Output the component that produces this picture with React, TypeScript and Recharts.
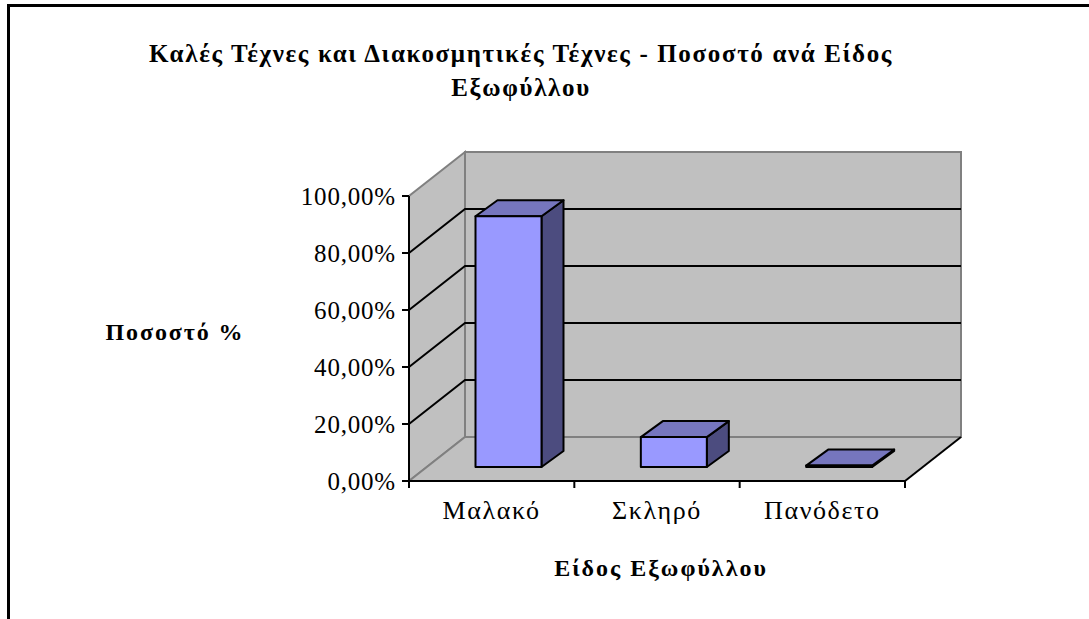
import React from 'react';
import { BarChart, Bar, XAxis, YAxis, usePlotArea } from 'recharts';

const categories = ['Μαλακό', 'Σκληρό', 'Πανόδετο'];
const percentages = [88, 10.5, 0.5];
const percentTicks = [0, 20, 40, 60, 80, 100];
const titleLines = ['Καλές Τέχνες και Διακοσμητικές Τέχνες - Ποσοστό ανά Είδος', 'Εξωφύλλου'];
const yAxisTitle = 'Ποσοστό %';
const xAxisTitle = 'Είδος Εξωφύλλου';

const chartData = categories.map((name, i) => ({ name, value: percentages[i] }));

const FONT = '"Liberation Serif", serif';
// 3d projection: how far the back wall sits behind the axes
const WALL_DX = 56;
const WALL_DY = 44;
// bars stand part way into the floor and have their own depth
const BAR_SHIFT_X = 16.5;
const BAR_SHIFT_Y = 14;
const BAR_DX = 22;
const BAR_DY = 16;

const Walls = () => {
  const plot = usePlotArea();
  if (!plot) return null;
  const { x, y, width, height } = plot;
  const bottom = y + height;
  const right = x + width;
  const toY = (v: number) => bottom - (v / 100) * height;

  return (
    <g>
      <polygon
        points={`${x},${bottom} ${x},${y} ${x + WALL_DX},${y - WALL_DY} ${x + WALL_DX},${bottom - WALL_DY}`}
        fill="#c0c0c0"
        stroke="#808080"
        strokeWidth={2}
      />
      <rect x={x + WALL_DX} y={y - WALL_DY} width={width} height={height} fill="#c0c0c0" stroke="#808080" strokeWidth={2} />
      <polygon
        points={`${x},${bottom} ${x + WALL_DX},${bottom - WALL_DY} ${right + WALL_DX},${bottom - WALL_DY} ${right},${bottom}`}
        fill="#c0c0c0"
      />
      <line x1={x} y1={bottom} x2={x + WALL_DX} y2={bottom - WALL_DY} stroke="#808080" strokeWidth={2} />
      <line x1={x + WALL_DX} y1={bottom - WALL_DY} x2={right + WALL_DX} y2={bottom - WALL_DY} stroke="#808080" strokeWidth={2} />
      <line x1={right} y1={bottom} x2={right + WALL_DX} y2={bottom - WALL_DY} stroke="#000" strokeWidth={2} />
      {percentTicks
        .filter((v) => v > 0 && v < 100)
        .map((v) => (
          <polyline
            key={v}
            points={`${x},${toY(v)} ${x + WALL_DX},${toY(v) - WALL_DY} ${right + WALL_DX},${toY(v) - WALL_DY}`}
            fill="none"
            stroke="#000"
            strokeWidth={2}
          />
        ))}
    </g>
  );
};

// the x ticks sit between the categories, which recharts' band axis can't do by itself
const BandTicks = () => {
  const plot = usePlotArea();
  if (!plot) return null;
  const { x, y, width, height } = plot;
  const bottom = y + height;
  return (
    <g>
      {[0, ...categories.map((_, i) => i + 1)].map((i) => {
        const tx = x + (i * width) / categories.length;
        return <line key={i} x1={tx} y1={bottom} x2={tx} y2={bottom + 7} stroke="#000" strokeWidth={2} />;
      })}
    </g>
  );
};

const Prism = (props: any) => {
  const { x, y, width, height } = props;
  const left = x + BAR_SHIFT_X;
  const top = y - BAR_SHIFT_Y;
  const right = left + width;
  const bottom = top + height;
  return (
    <g stroke="#000" strokeWidth={2} strokeLinejoin="round">
      <polygon
        points={`${right},${top} ${right + BAR_DX},${top - BAR_DY} ${right + BAR_DX},${bottom - BAR_DY} ${right},${bottom}`}
        fill="#4c4c7f"
      />
      <polygon
        points={`${left},${top} ${left + BAR_DX},${top - BAR_DY} ${right + BAR_DX},${top - BAR_DY} ${right},${top}`}
        fill="#7676be"
      />
      <rect x={left} y={top} width={width} height={height} fill="#9999ff" />
    </g>
  );
};

const Titles = () => (
  <g fontFamily={FONT} fontWeight="bold" fill="#000" fontSize={25}>
    {titleLines.map((line, i) => (
      <text key={line} x={521} y={62 + i * 34} textAnchor="middle" letterSpacing={1.65}>
        {line}
      </text>
    ))}
    <text x={175} y={340} textAnchor="middle" fontSize={24} letterSpacing={1.9}>
      {yAxisTitle}
    </text>
    <text x={661} y={576} textAnchor="middle" fontSize={24} letterSpacing={2}>
      {xAxisTitle}
    </text>
  </g>
);

const App: React.FC = () => {
  return (
    <div style={{ position: 'absolute', left: 0, top: 0, width: 1089, height: 619, background: '#fff', overflow: 'hidden' }}>
      {/* frame of the pasted chart: only the top and left edges are in the crop */}
      <div style={{ position: 'absolute', left: 7, top: 4, width: 1082, height: 2.5, background: '#000' }} />
      <div style={{ position: 'absolute', left: 7, top: 4, width: 2.5, height: 615, background: '#000' }} />
      <div style={{ position: 'absolute', left: 0, top: 0 }}>
        <BarChart
          width={1089}
          height={619}
          data={chartData}
          margin={{ top: 196, right: 184, bottom: 78, left: 299 }}
          barSize={66}
        >
          <Walls />
          <XAxis
            dataKey="name"
            height={60}
            axisLine={{ stroke: '#000', strokeWidth: 2 }}
            tickLine={false}
            tickMargin={14}
            interval={0}
            tick={{ fontFamily: FONT, fontSize: 26, fill: '#000', letterSpacing: 1.6 }}
          />
          <YAxis
            width={110}
            domain={[0, 100]}
            ticks={percentTicks}
            tickFormatter={(v: number) => `${v.toFixed(2).replace('.', ',')}%`}
            axisLine={{ stroke: '#000', strokeWidth: 2 }}
            tickLine={{ stroke: '#000', strokeWidth: 2 }}
            tickSize={7}
            tickMargin={6}
            interval={0}
            tick={{ fontFamily: FONT, fontSize: 25, fill: '#000', letterSpacing: 0.8 }}
          />
          <Bar dataKey="value" shape={Prism} isAnimationActive={false} />
          <BandTicks />
          <Titles />
        </BarChart>
      </div>
    </div>
  );
};

export default App;
